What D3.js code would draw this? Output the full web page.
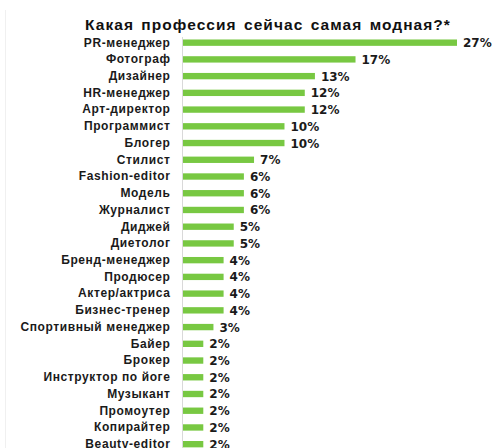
<!DOCTYPE html>
<html>
<head>
<meta charset="utf-8">
<script src="https://cdn.jsdelivr.net/npm/d3@7"></script>
<style>
  html, body { margin: 0; padding: 0; background: #fff; }
  svg { display: block; }
</style>
</head>
<body>
<svg id="chart" width="494" height="448"></svg>
<script>
// Survey: which profession is the most fashionable right now
const professions = [
  "PR-менеджер", "Фотограф", "Дизайнер", "HR-менеджер", "Арт-директор",
  "Программист", "Блогер", "Стилист", "Fashion-editor", "Модель",
  "Журналист", "Диджей", "Диетолог", "Бренд-менеджер", "Продюсер",
  "Актер/актриса", "Бизнес-тренер", "Спортивный менеджер", "Байер", "Брокер",
  "Инструктор по йоге", "Музыкант", "Промоутер", "Копирайтер", "Beauty-editor"
];
const shares = [27, 17, 13, 12, 12, 10, 10, 7, 6, 6, 6, 5, 5, 4, 4, 4, 4, 3, 2, 2, 2, 2, 2, 2, 2];
const titleText = "Какая профессия сейчас самая модная?*";

const svg = d3.select("#chart");
const axisX = 182.5;

const x = d3.scaleLinear().domain([0, 27]).range([axisX + 0.5, axisX + 0.5 + 274]);
const y = d3.scaleBand()
  .domain(professions)
  .range([34.3, 34.3 + professions.length * 16.73])
  .paddingInner(0.62)
  .paddingOuter(0.31);

// faint frame line on the left
svg.append("line")
  .attr("x1", 5.5).attr("x2", 5.5)
  .attr("y1", 10).attr("y2", 448)
  .attr("stroke", "#f0f0f0").attr("stroke-width", 1);

// title
svg.append("text")
  .attr("x", 268).attr("y", 30)
  .attr("text-anchor", "middle")
  .attr("font-family", "Liberation Sans, Arial, sans-serif")
  .attr("font-weight", "bold")
  .attr("font-size", 15.5)
  .attr("letter-spacing", 1.05)
  .attr("word-spacing", 2)
  .attr("fill", "#111")
  .text(titleText);

// category axis
const yAxis = d3.axisLeft(y).tickSize(0).tickPadding(12);
const gAxis = svg.append("g")
  .attr("transform", `translate(${axisX},0)`)
  .call(yAxis);
gAxis.select(".domain")
  .attr("d", `M0,37V448`)
  .attr("stroke", "#d9d9d9");
gAxis.selectAll("text")
  .attr("font-family", "Liberation Sans, Arial, sans-serif")
  .attr("font-weight", "bold")
  .attr("font-size", 12)
  .attr("letter-spacing", 0.6)
  .attr("fill", "#1a1a1a");

// bars
svg.append("g").selectAll("rect")
  .data(professions)
  .join("rect")
  .attr("x", x(0))
  .attr("y", (d) => y(d))
  .attr("width", (d, i) => x(shares[i]) - x(0))
  .attr("height", y.bandwidth())
  .attr("fill", "#78c842");

// value labels
svg.append("g").selectAll("text")
  .data(professions)
  .join("text")
  .attr("x", (d, i) => x(shares[i]) + 6)
  .attr("y", (d) => y(d) + y.bandwidth() / 2 + 1)
  .attr("dominant-baseline", "middle")
  .attr("font-family", "DejaVu Sans, Verdana, sans-serif")
  .attr("font-weight", "bold")
  .attr("font-size", 12)
  .attr("fill", "#1a1a1a")
  .text((d, i) => shares[i] + "%");
</script>
</body>
</html>
